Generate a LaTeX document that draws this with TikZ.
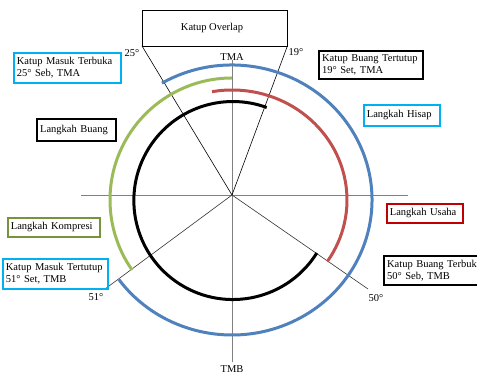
\documentclass[tikz,border=0pt]{standalone}
\usepackage{fontspec}
\setmainfont{Liberation Serif}
\definecolor{cyanb}{RGB}{0,176,240}
\definecolor{arcblue}{RGB}{79,129,189}
\definecolor{arcred}{RGB}{192,80,77}
\definecolor{arcgreen}{RGB}{155,187,89}
\definecolor{boxred}{RGB}{192,0,0}
\definecolor{boxgreen}{RGB}{119,147,60}
\begin{document}
\begin{tikzpicture}[x=1pt,y=1pt,
  font=\fontsize{10.5}{12.5}\selectfont,
  lbl/.style={inner sep=0pt},
  tbox/.style={draw, line width=1.8pt, anchor=north west, align=left, inner xsep=3pt, inner ysep=1pt},
  cbox/.style={tbox, draw=cyanb},
  kbox/.style={tbox, draw=black, line width=2.2pt},
  rbox/.style={tbox, draw=boxred},
  gbox/.style={tbox, draw=boxgreen},
  axis/.style={draw=gray, line width=0.8pt},
  ray/.style={draw=black!80, line width=0.6pt},
  stroke/.style={line width=3pt}
]
\useasboundingbox (0,0) rectangle (477,374);
\coordinate (C) at (232,174);
\coordinate (O) at (232,179);
% axes
\coordinate (HL) at (81,179);
\coordinate (HR) at (408,179);
\coordinate (VT) at (232,314);
\coordinate (VB) at (232,12);
\draw[axis] (HL) -- (HR);
\draw[axis] (VT) -- (VB);
% rays
\coordinate (A25) at (142,328);
\coordinate (A19) at (287,327);
\coordinate (A51) at (105,85);
\coordinate (A50) at (368,85);
\draw[ray,black] (O) -- (A25);
\draw[ray,black] (O) -- (A19);
\draw[ray] (O) -- (A51);
\draw[ray] (O) -- (A50);
% arcs
\draw[stroke, arcblue] ([shift={(120:140 and 135)}]C) arc[start angle=120, end angle=-144, x radius=140, y radius=135];
\draw[stroke, arcgreen] ([shift={(90:122)}]C) arc[start angle=90, end angle=215, radius=122];
\draw[stroke, arcred] ([shift={(100:115 and 110)}]C) arc[start angle=100, end angle=-34, x radius=115, y radius=110];
\draw[stroke, black] ([shift={(-32:100)}]C) arc[start angle=-32, end angle=-290, radius=99];
% overlap box
\node[draw, line width=0.6pt, minimum width=145, minimum height=36, inner sep=0pt] (ov) at (214.5,346) {};
\node[lbl] (ovt) at (212,346) {Katup Overlap};
% labels
\node[lbl] (tma) at (232,317) {TMA};
\node[lbl] (tmb) at (232,5) {TMB};
\node[lbl] (d25) at (132,321) {25°};
\node[lbl] (d19) at (296,322) {19°};
\node[lbl] (d51) at (96,77) {51°};
\node[lbl] (d50) at (376,76) {50°};
% boxes
\node[cbox, text width=101, minimum height=30] (kmt) at (13,322) {Katup Masuk Terbuka\\25° Seb, TMA};
\node[kbox, text width=98, minimum height=28] (kbt) at (318,324) {Katup Buang Tertutup\\19° Set, TMA};
\node[cbox, text width=70, minimum height=21] (hisap) at (363,270) {Langkah Hisap};
\node[kbox, text width=73, minimum height=22] (buang) at (36,256) {Langkah Buang};
\node[gbox, text width=86, minimum height=19] (komp) at (7,157) {Langkah Kompresi};
\node[cbox, text width=99, minimum height=30] (kmtt) at (2,116) {Katup Masuk Tertutup\\51° Set, TMB};
\node[rbox, text width=70, minimum height=19] (usaha) at (386,171) {Langkah Usaha};
\node[kbox, text width=104, minimum height=29] (kbtb) at (383,119) {Katup Buang Terbuka\\50° Seb, TMB};
\end{tikzpicture}
\end{document}
